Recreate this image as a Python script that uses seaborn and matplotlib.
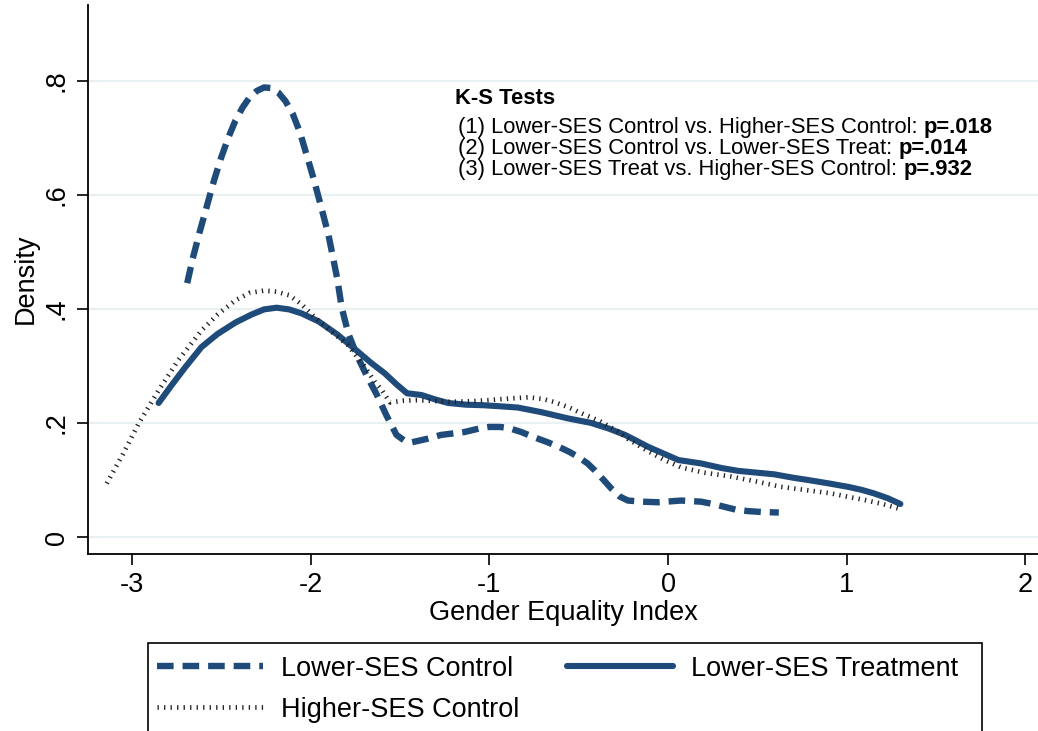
import numpy as np
import pandas as pd
import matplotlib
matplotlib.use('Agg')
import matplotlib.pyplot as plt
from matplotlib.patches import Rectangle
import seaborn as sns

# curves (Gender Equality Index vs density)
ctrl_low_x = [-2.69, -2.66, -2.62, -2.58, -2.54, -2.50, -2.46, -2.42, -2.38, -2.34, -2.30,
              -2.26, -2.22, -2.18, -2.14, -2.10, -2.06, -2.02, -1.98, -1.94, -1.90, -1.85,
              -1.826, -1.789, -1.74, -1.686, -1.63, -1.575, -1.519, -1.47, -1.435, -1.35,
              -1.27, -1.14, -1.06, -1.0, -0.94, -0.89, -0.82, -0.75, -0.68, -0.61, -0.55,
              -0.5, -0.45, -0.41, -0.36, -0.317, -0.27, -0.224, -0.14, -0.056, 0.074, 0.186,
              0.25, 0.316, 0.38, 0.447, 0.52, 0.62]
ctrl_low_y = [0.445, 0.487, 0.535, 0.58, 0.625, 0.665, 0.70, 0.73, 0.753, 0.771, 0.782,
              0.788, 0.787, 0.779, 0.764, 0.742, 0.71, 0.668, 0.625, 0.578, 0.53, 0.452,
              0.403, 0.357, 0.318, 0.283, 0.25, 0.213, 0.179, 0.168, 0.166, 0.172,
              0.179, 0.184, 0.19, 0.193, 0.193, 0.191, 0.184, 0.175, 0.167, 0.158, 0.149,
              0.14, 0.129, 0.117, 0.1, 0.085, 0.071, 0.064, 0.062, 0.061, 0.064, 0.062,
              0.058, 0.053, 0.048, 0.0455, 0.044, 0.043]

treat_low_x = [-2.85, -2.78, -2.70, -2.61, -2.52, -2.42, -2.33, -2.26, -2.19, -2.12, -2.05,
               -1.955, -1.85, -1.75, -1.66, -1.585, -1.52, -1.46, -1.38, -1.30, -1.23, -1.13,
               -1.03, -0.93, -0.84, -0.71, -0.56, -0.43, -0.33, -0.24, -0.11, 0.058, 0.186,
               0.30, 0.393, 0.594, 0.70, 0.784, 0.90, 1.008, 1.08, 1.153, 1.23, 1.30]
treat_low_y = [0.235, 0.265, 0.298, 0.333, 0.356, 0.376, 0.39, 0.399, 0.402, 0.399, 0.392,
               0.378, 0.355, 0.329, 0.305, 0.287, 0.268, 0.252, 0.249, 0.241, 0.235, 0.232,
               0.231, 0.229, 0.227, 0.219, 0.208, 0.2, 0.19, 0.179, 0.158, 0.135, 0.129,
               0.121, 0.116, 0.110, 0.104, 0.1, 0.094, 0.088, 0.083, 0.0765, 0.068, 0.058]

ctrl_high_x = [-3.14, -3.05, -2.96, -2.85, -2.74, -2.61, -2.52, -2.42, -2.34, -2.26, -2.19,
               -2.12, -2.05, -1.98, -1.89, -1.79, -1.70, -1.64, -1.60, -1.555, -1.48, -1.40,
               -1.21, -1.1, -1.0, -0.88, -0.78, -0.70, -0.64, -0.56, -0.485, -0.38, -0.28,
               -0.224, -0.12, -0.02, 0.074, 0.2, 0.354, 0.5, 0.633, 0.78, 0.913, 1.0, 1.1,
               1.2, 1.29]
ctrl_high_y = [0.094, 0.145, 0.2, 0.257, 0.31, 0.362, 0.39, 0.415, 0.428, 0.432, 0.43,
               0.424, 0.408, 0.386, 0.362, 0.336, 0.3, 0.272, 0.257, 0.236, 0.239, 0.24,
               0.237, 0.238, 0.24, 0.243, 0.245, 0.242, 0.237, 0.228, 0.217, 0.203, 0.185,
               0.172, 0.152, 0.135, 0.122, 0.113, 0.106, 0.097, 0.088, 0.082, 0.0765, 0.071, 0.065,
               0.058, 0.05]

series_names = ['Lower-SES Control', 'Lower-SES Treatment', 'Higher-SES Control']
x_ticks = [-3, -2, -1, 0, 1, 2]
x_ticklabels = ['-3', '-2', '-1', '0', '1', '2']
y_ticks = [0, 0.2, 0.4, 0.6, 0.8]
y_ticklabels = ['0', '.2', '.4', '.6', '.8']

ks_lines = ['(1) Lower-SES Control vs. Higher-SES Control: ',
            '(2) Lower-SES Control vs. Lower-SES Treat: ',
            '(3) Lower-SES Treat vs. Higher-SES Control: ']
ks_pvals = ['p=.018', 'p=.014', 'p=.932']

sns.set_style('white')
plt.rcParams['font.family'] = ['Liberation Sans', 'DejaVu Sans']
plt.rcParams['text.color'] = 'black'
plt.rcParams['axes.labelcolor'] = 'black'
plt.rcParams['xtick.color'] = 'black'
plt.rcParams['ytick.color'] = 'black'

navy = '#1f4b7a'
fs = 19.5
W, H = 1038, 731

fig = plt.figure(figsize=(W / 100, H / 100), dpi=100)
ax = fig.add_axes([88 / W, (H - 553.5) / H, (W - 88) / W, (553.5 - 5) / H])

for yt in y_ticks:
    ax.axhline(yt, color='#e8f0f2', lw=1.6, zorder=0)

sns.lineplot(x=ctrl_low_x, y=ctrl_low_y, ax=ax, color=navy, lw=4.6,
             label=series_names[0], sort=False)
sns.lineplot(x=treat_low_x, y=treat_low_y, ax=ax, color=navy, lw=4.4,
             label=series_names[1], sort=False)
sns.lineplot(x=ctrl_high_x, y=ctrl_high_y, ax=ax, color='#222222', lw=3.4,
             label=series_names[2], sort=False)

lines = ax.get_lines()[len(y_ticks):]
lines[0].set_linestyle((0, (2.6, 1.4)))
lines[0].set_dash_capstyle('butt')
lines[2].set_linestyle((0, (0.28, 1.1)))
lines[2].set_dash_capstyle('butt')

ax.set_xlim(-3.245, 2.07)
ax.set_ylim(-0.0288, 0.9325)
ax.set_xticks(x_ticks)
ax.set_xticklabels(x_ticklabels)
ax.set_yticks(y_ticks)
ax.set_yticklabels(y_ticklabels, rotation=90, va='center')
ax.tick_params(axis='both', length=8, width=1.2, color='black', labelsize=fs,
               labelcolor='black', direction='out', pad=5, left=True, bottom=True)
ax.set_xlabel('Gender Equality Index', fontsize=fs, labelpad=2)
ax.set_ylabel('Density', fontsize=fs, labelpad=4)

for side in ['top', 'right']:
    ax.spines[side].set_visible(False)
for side in ['left', 'bottom']:
    ax.spines[side].set_color('black')
    ax.spines[side].set_linewidth(1.3)

# K-S test box
tfs = 15.8
fig.text(455 / W, 1 - 98 / H, 'K-S Tests', fontsize=tfs, fontweight='bold',
         va='center', ha='left')
for i, (t, p) in enumerate(zip(ks_lines, ks_pvals)):
    ypix = 127 + i * 21.5
    tx = fig.text(458 / W, 1 - ypix / H, t, fontsize=tfs, va='center', ha='left')
    fig.canvas.draw()
    ax.annotate(p, xy=(1, 0.5), xycoords=tx, fontsize=tfs, fontweight='bold',
                va='center', ha='left')

# legend: column-major fill, so order gives rows (Control, Treatment) / (Higher)
h, l = ax.get_legend_handles_labels()
order = [0, 2, 1]
leg = ax.legend([h[i] for i in order], [l[i] for i in order], loc='upper left', ncol=2,
                fontsize=fs, frameon=False,
                bbox_to_anchor=(148 / W, 1 - 647 / H), bbox_transform=fig.transFigure,
                borderaxespad=0, borderpad=0.33, handlelength=3.9, handletextpad=0.67,
                labelspacing=0.55, columnspacing=1.78)
fig.add_artist(Rectangle((148 / W, -0.05), (982 - 148) / W, 0.05 + 1 - 643 / H,
                         transform=fig.transFigure, fill=False, edgecolor='black', lw=1.2))

fig.savefig('out.png', dpi=100)
